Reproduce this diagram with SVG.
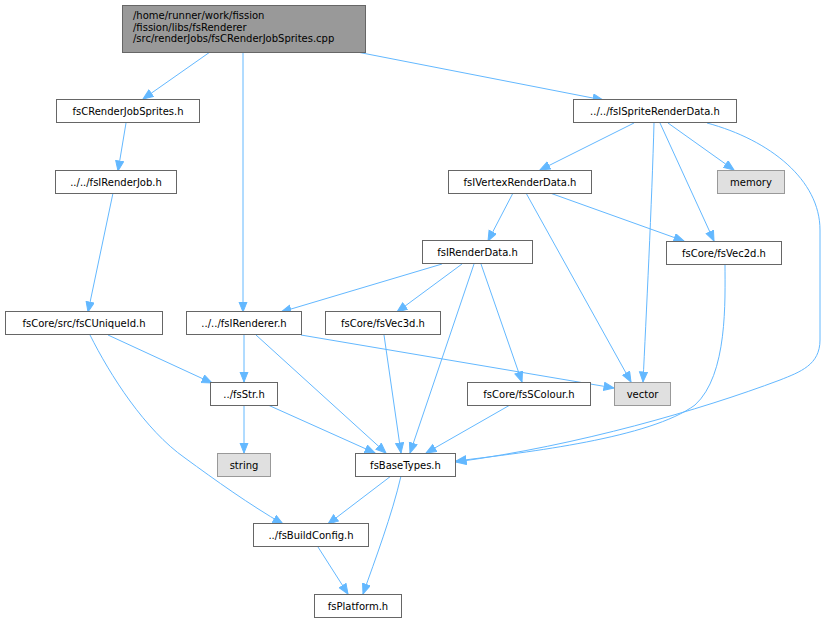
<svg xmlns="http://www.w3.org/2000/svg" width="827" height="623" viewBox="0 0 827 623">
<defs>
<marker id="ah" markerUnits="userSpaceOnUse" markerWidth="12" markerHeight="10" refX="10.5" refY="4.5" orient="auto">
<path d="M0.5,0.5 L10.5,4.5 L0.5,8.5 z" fill="#63b8ff" stroke="#63b8ff" stroke-width="1"/>
</marker>
<style>
.n rect{fill:#ffffff;stroke:#666666;stroke-width:1}
.n.sys rect{fill:#e0e0e0;stroke:#999999}
.n.root rect{fill:#999999;stroke:#666666}
.n text{font-family:"DejaVu Sans",sans-serif;font-size:10px;fill:#000000;text-anchor:middle}
.n.root text{text-anchor:start}
#edges path{fill:none;stroke:#63b8ff;stroke-width:1;marker-end:url(#ah)}
</style>
</defs>
<rect width="827" height="623" fill="#ffffff"/>
<g id="edges">
<path d="M210,52 L143,99"/>
<path d="M243,52 L243,312"/>
<path d="M357,52 L603,100"/>
<path d="M126,123 L118,171"/>
<path d="M113,193 L88,312"/>
<path d="M108,335 L212,383"/>
<path d="M90,335 C110,375 145,430 185,458 C215,480 250,505 283,524"/>
<path d="M244,335 L244,382"/>
<path d="M256,335 L386,453"/>
<path d="M301,335 L614,388"/>
<path d="M244,405 L244,453"/>
<path d="M268,405 L375,453"/>
<path d="M391,476 L328,524"/>
<path d="M401,476 C392,515 375,560 363,594"/>
<path d="M318,547 L348,594"/>
<path d="M634,123 L540,170"/>
<path d="M654,123 C652,200 646,320 643,382"/>
<path d="M668,123 L734,170"/>
<path d="M660,123 L714,241"/>
<path d="M707,123 C770,140 820,180 820,230 L820,340 C820,365 800,372 780,380 C700,410 580,445 456,462"/>
<path d="M725,264 C725,300 728,375 695,405 C650,438 530,452 456,461"/>
<path d="M513,193 L488,241"/>
<path d="M526,193 L631,382"/>
<path d="M550,193 L684,241"/>
<path d="M442,264 L281,312"/>
<path d="M462,264 L397,312"/>
<path d="M474,264 L410,453"/>
<path d="M481,264 L522,382"/>
<path d="M384,335 L401,453"/>
<path d="M510,405 L426,453"/>
</g>
<g id="n_root" class="n root"><rect x="122.5" y="5.5" width="243" height="47"/><text x="133" y="19">/home/runner/work/fission</text><text x="133" y="30.5">/fission/libs/fsRenderer</text><text x="133" y="42">/src/renderJobs/fsCRenderJobSprites.cpp</text></g>
<g id="n_fsCRenderJobSprites" class="n"><rect x="56.5" y="99.5" width="143" height="23"/><text x="128" y="115">fsCRenderJobSprites.h</text></g>
<g id="n_fsIRenderJob" class="n"><rect x="55.5" y="170.5" width="121" height="23"/><text x="116" y="186">../../fsIRenderJob.h</text></g>
<g id="n_fsCUniqueId" class="n"><rect x="5.5" y="311.5" width="157" height="23"/><text x="84" y="327">fsCore/src/fsCUniqueId.h</text></g>
<g id="n_fsIRenderer" class="n"><rect x="186.5" y="311.5" width="115" height="23"/><text x="244" y="327">../../fsIRenderer.h</text></g>
<g id="n_fsVec3d" class="n"><rect x="325.5" y="311.5" width="115" height="23"/><text x="383" y="327">fsCore/fsVec3d.h</text></g>
<g id="n_fsIRenderData" class="n"><rect x="422.5" y="240.5" width="110" height="23"/><text x="477.5" y="256">fsIRenderData.h</text></g>
<g id="n_fsISpriteRenderData" class="n"><rect x="573.5" y="99.5" width="163" height="23"/><text x="655" y="115">../../fsISpriteRenderData.h</text></g>
<g id="n_fsIVertexRenderData" class="n"><rect x="448.5" y="170.5" width="143" height="23"/><text x="520" y="186">fsIVertexRenderData.h</text></g>
<g id="n_memory" class="n sys"><rect x="717.5" y="170.5" width="67" height="23"/><text x="751" y="186">memory</text></g>
<g id="n_fsVec2d" class="n"><rect x="666.5" y="241.5" width="115" height="23"/><text x="724" y="257">fsCore/fsVec2d.h</text></g>
<g id="n_vector" class="n sys"><rect x="614.5" y="382.5" width="56" height="23"/><text x="642.5" y="398">vector</text></g>
<g id="n_fsSColour" class="n"><rect x="467.5" y="382.5" width="123" height="23"/><text x="529" y="398">fsCore/fsSColour.h</text></g>
<g id="n_fsStr" class="n"><rect x="210.5" y="382.5" width="67" height="23"/><text x="244" y="398">../fsStr.h</text></g>
<g id="n_string" class="n sys"><rect x="217.5" y="453.5" width="53" height="23"/><text x="244" y="469">string</text></g>
<g id="n_fsBaseTypes" class="n"><rect x="355.5" y="453.5" width="100" height="23"/><text x="405.5" y="469">fsBaseTypes.h</text></g>
<g id="n_fsBuildConfig" class="n"><rect x="253.5" y="523.5" width="115" height="23"/><text x="311" y="539">../fsBuildConfig.h</text></g>
<g id="n_fsPlatform" class="n"><rect x="314.5" y="594.5" width="87" height="23"/><text x="358" y="610">fsPlatform.h</text></g>
</svg>
